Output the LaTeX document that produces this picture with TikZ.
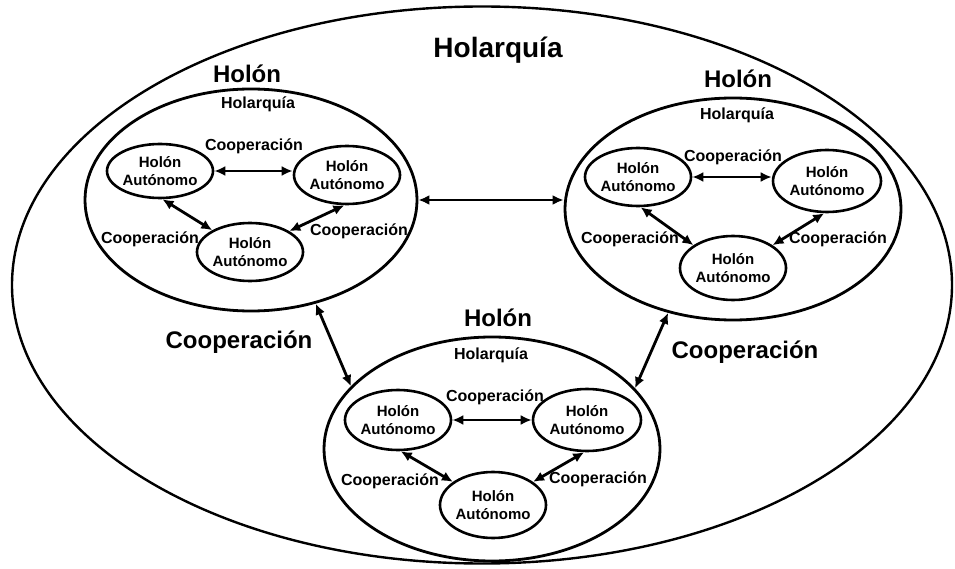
\documentclass[tikz,border=0pt]{standalone}
\usepackage{fontspec}
\setmainfont{Liberation Sans}
\usetikzlibrary{shapes.geometric,arrows.meta}
\begin{document}
\begin{tikzpicture}[x=1pt,y=-1pt,
  frame/.style={draw, ellipse, line width=2.4pt, inner sep=0pt,
    minimum width=940pt, minimum height=557pt},
  holon/.style={draw, ellipse, line width=2.8pt, inner sep=0pt,
    minimum width=332pt, minimum height=222pt},
  unit/.style={draw, ellipse, line width=2.6pt, inner sep=0pt, align=center,
    minimum width=106pt, minimum height=58pt,
    font=\fontsize{15}{18}\selectfont\bfseries},
  title/.style={font=\fontsize{28}{32}\selectfont\bfseries},
  holtitle/.style={font=\fontsize{24}{28}\selectfont\bfseries},
  bigcoop/.style={font=\fontsize{24}{28}\selectfont\bfseries},
  lbl/.style={font=\fontsize{16}{18}\selectfont\bfseries},
  link/.style={{Latex[length=11pt,width=10pt]}-{Latex[length=11pt,width=10pt]},
    line width=2.8pt},
]
\useasboundingbox (0,0) rectangle (955,569);

% whole holarchy
\node[frame] (world) at (482,285) {};
\node[title] (worldtitle) at (498,50) {Holarquía};

% the three holons
\node[holon] (L) at (251,200) {};
\node[holon, minimum width=336pt] (R) at (733,209) {};
\node[holon, minimum width=336pt, minimum height=224pt] (B) at (492,449) {};

% ---- left holon ----
\node[holtitle] (Lt) at (247,74) {Holón};
\node[lbl] (Lh) at (258,104) {Holarquía};
\node[unit, minimum width=104pt, minimum height=54pt] (Ltl) at (160,171) {Holón\\Autónomo};
\node[unit] (Ltr) at (347,175) {Holón\\Autónomo};
\node[unit, minimum width=98pt] (Lbt) at (250,252) {Holón\\Autónomo};
\node[lbl] (Lc1) at (254,146) {Cooperación};
\node[lbl] (Lc2) at (150,239) {Cooperación};
\node[lbl] (Lc3) at (359,231) {Cooperación};
\draw[link] (Ltl.east) -- (Ltl.east -| Ltr.west);
\draw[link] (Ltl.-85) -- (Lbt.150);
\draw[link] (Ltr.-95) -- (Lbt.28);

% ---- right holon ----
\node[holtitle] (Rt) at (738,79) {Holón};
\node[lbl] (Rh) at (737,115) {Holarquía};
\node[unit] (Rtl) at (638,177) {Holón\\Autónomo};
\node[unit, minimum width=108pt, minimum height=62pt] (Rtr) at (827,181) {Holón\\Autónomo};
\node[unit, minimum width=104pt, minimum height=64pt] (Rbt) at (733,268) {Holón\\Autónomo};
\node[lbl] (Rc1) at (733,157) {Cooperación};
\node[lbl] (Rc2) at (630,239) {Cooperación};
\node[lbl] (Rc3) at (838,239) {Cooperación};
\draw[link] (Rtl.east) -- (Rtl.east -| Rtr.west);
\draw[link] (Rtl.-85) -- (Rbt.150);
\draw[link] (Rtr.-95) -- (Rbt.30);

% ---- bottom holon ----
\node[holtitle] (Bt) at (498,318) {Holón};
\node[lbl] (Bh) at (491,355) {Holarquía};
\node[unit, minimum height=60pt] (Btl) at (398,420) {Holón\\Autónomo};
\node[unit, minimum width=108pt, minimum height=62pt] (Btr) at (587,420) {Holón\\Autónomo};
\node[unit, minimum height=66pt] (Bbt) at (493,505) {Holón\\Autónomo};
\node[lbl] (Bc1) at (495,397) {Cooperación};
\node[lbl] (Bc2) at (390,481) {Cooperación};
\node[lbl] (Bc3) at (598,479) {Cooperación};
\draw[link] (Btl.east) -- (Btl.east -| Btr.west);
\draw[link] (Btl.-85) -- (Bbt.150);
\draw[link] (Btr.-95) -- (Bbt.30);

% cooperation between holons
\draw[link] (L.east) -- (L.east -| R.west);
\draw[link] (L.-58) -- (B.156);
\draw[link] (R.-122) -- (B.23);
\node[bigcoop] (c1) at (239,342) {Cooperación};
\node[bigcoop] (c2) at (745,352) {Cooperación};
\end{tikzpicture}
\end{document}
